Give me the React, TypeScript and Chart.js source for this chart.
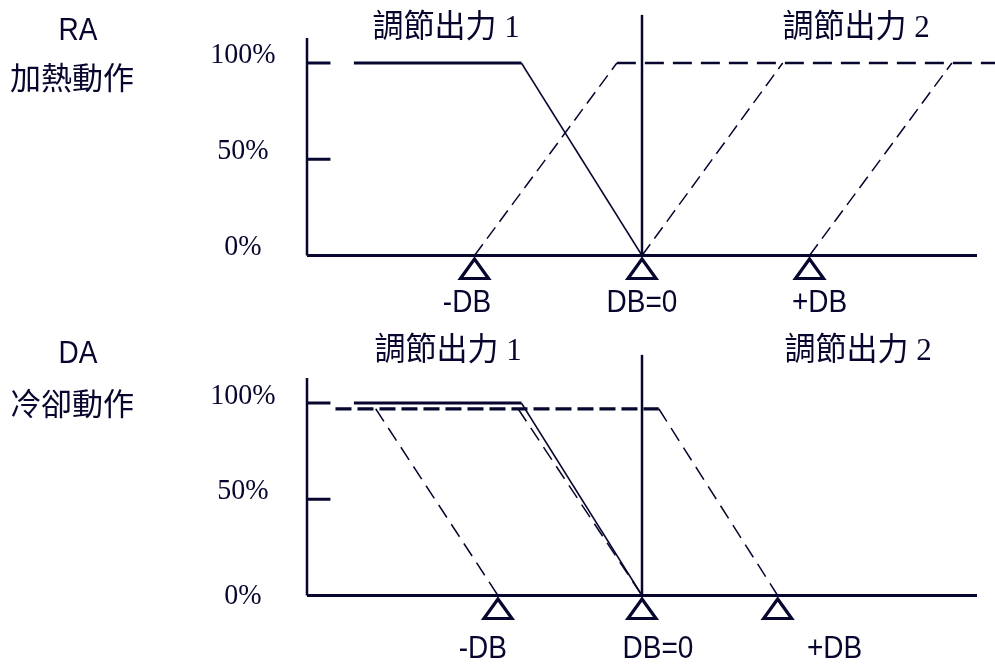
import React, { useEffect, useRef } from 'react';
import { Chart, registerables } from 'chart.js';

Chart.register(...registerables);

const INK = '#06062e';

// shared labels
const yTickValues = [0, 50, 100];
const yTickLabels = ['0%', '50%', '100%'];
const markerLabels = ['-DB', 'DB=0', '+DB'];
const titleLabels = ['調節出力 1', '調節出力 2'];

// frame (x in DB-units, y in %)
const axisX = [-2, -2, 2];
const axisY = [113, 0, 0];
const centerX = [0, 0];
const centerY = [0, 125];
const tickX = [-2, -1.86];

// RA 加熱動作
const raModeLabels = ['RA', '加熱動作'];
const raOut1X = [-1.72, -0.72, 0];
const raOut1Y = [100, 100, 0];
const raOut2AX = [-1.0, -0.15, 2.11];
const raOut2AY = [0, 100, 100];
const raOut2BX = [0, 0.84];
const raOut2BY = [0, 100];
const raOut2CX = [1.0, 1.85];
const raOut2CY = [0, 100];
const raMarkerX = [-1.0, 0, 1.0];
const raMarkerLabelX = [-1.045, 0, 1.06];
const raTitleX = [-1.17, 1.278];

// DA 冷卻動作
const daModeLabels = ['DA', '冷卻動作'];
const daOut1X = [-1.72, -0.72, 0];
const daOut1Y = [100, 100, 0];
const daOut2HX = [-1.83, 0.1];
const daOut2HY = [97, 97];
const daOut2AX = [-1.59, -0.86];
const daOut2AY = [97, 0];
const daOut2BX = [-0.74, 0];
const daOut2BY = [97, 0];
const daOut2CX = [0.1, 0.81];
const daOut2CY = [97, 0];
const daMarkerX = [-0.86, 0, 0.81];
const daMarkerLabelX = [-0.95, 0.095, 1.15];
const daTitleX = [-1.158, 1.29];

const pts = (xs: number[], ys: number[]) => xs.map((x, i) => ({ x, y: ys[i] }));

const line = (
  data: { x: number; y: number }[],
  hW: number,
  hDash: number[],
  sW: number,
  sDash: number[]
) => ({
  data,
  borderColor: INK,
  borderWidth: sW,
  borderDash: sDash,
  pointRadius: 0,
  pointHoverRadius: 0,
  clip: false as any,
  fill: false,
  tension: 0,
  borderCapStyle: 'butt' as const,
  borderJoinStyle: 'miter' as const,
  segment: {
    borderWidth: (c: any) => (c.p0.parsed.y === c.p1.parsed.y ? hW : sW),
    borderDash: (c: any) => (c.p0.parsed.y === c.p1.parsed.y ? hDash : sDash),
  },
});

type Panel = {
  padTop: number;
  padBottom: number;
  datasets: any[];
  markers: number[];
  markerLabelX: number[];
  markerLabelDy: number;
  titleX: number[];
  titleY: number;
  modeLabels: string[];
  modeX: number[];
  modeY: number[];
  yLabelDy: number[];
};

const frame = () => [
  line(pts(axisX, axisY), 3, [], 2.5, []),
  line(pts(centerX, centerY), 2.5, [], 2.5, []),
  line(pts(tickX, [100, 100]), 3, [], 3, []),
  line(pts(tickX, [50, 50]), 3, [], 3, []),
];

const panels: Panel[] = [
  {
    padTop: 63,
    padBottom: 76.5,
    datasets: [
      ...frame(),
      line(pts(raOut1X, raOut1Y), 3, [], 1.5, []),
      line(pts(raOut2AX, raOut2AY), 2.5, [19, 9], 1.5, [14, 7]),
      line(pts(raOut2BX, raOut2BY), 2.5, [19, 9], 1.5, [14, 7]),
      line(pts(raOut2CX, raOut2CY), 2.5, [19, 9], 1.5, [14, 7]),
    ],
    markers: raMarkerX,
    markerLabelX: raMarkerLabelX,
    markerLabelDy: 48.5,
    titleX: raTitleX,
    titleY: 29,
    modeLabels: raModeLabels,
    modeX: [78, 72],
    modeY: [32, 77],
    yLabelDy: [-8, -8, -8],
  },
  {
    padTop: 71,
    padBottom: 68.5,
    datasets: [
      ...frame(),
      line(pts(daOut1X, daOut1Y), 3, [], 1.5, []),
      line(pts(daOut2HX, daOut2HY), 3.3, [16, 6], 1.5, [15, 8]),
      line(pts(daOut2AX, daOut2AY), 3.3, [16, 6], 1.5, [15, 8]),
      line(pts(daOut2BX, daOut2BY), 3.3, [16, 6], 1.5, [15, 8]),
      line(pts(daOut2CX, daOut2CY), 3.3, [16, 6], 1.5, [15, 8]),
    ],
    markers: daMarkerX,
    markerLabelX: daMarkerLabelX,
    markerLabelDy: 54.5,
    titleX: daTitleX,
    titleY: 20,
    modeLabels: daModeLabels,
    modeX: [78, 72],
    modeY: [23, 71],
    yLabelDy: [1, -8, -7],
  },
];

// draw text stretched vertically (the reference glyphs are slightly tall)
const tallText = (ctx: CanvasRenderingContext2D, t: string, x: number, y: number, sy: number) => {
  ctx.save();
  ctx.translate(x, y);
  ctx.scale(1, sy);
  ctx.fillText(t, 0, 0);
  ctx.restore();
};

const decorPlugin = (p: Panel) => ({
  id: 'decor',
  afterDatasetsDraw(chart: any) {
    const ctx = chart.ctx as CanvasRenderingContext2D;
    const xs = chart.scales.x;
    const ys = chart.scales.y;
    const base = ys.getPixelForValue(0);
    ctx.save();
    // triangles
    ctx.strokeStyle = INK;
    ctx.lineWidth = 3.2;
    ctx.lineJoin = 'miter';
    p.markers.forEach((v) => {
      const px = xs.getPixelForValue(v);
      ctx.beginPath();
      ctx.moveTo(px, base + 3.5);
      ctx.lineTo(px + 14, base + 23);
      ctx.lineTo(px - 14, base + 23);
      ctx.closePath();
      ctx.stroke();
    });
    ctx.fillStyle = INK;
    ctx.textAlign = 'center';
    ctx.textBaseline = 'middle';
    // marker labels
    ctx.font = '28px "Liberation Sans"';
    markerLabels.forEach((t, i) => {
      tallText(ctx, t, xs.getPixelForValue(p.markerLabelX[i]), base + p.markerLabelDy, 1.1);
    });
    // y labels
    ctx.font = '28px "Liberation Serif"';
    yTickValues.forEach((v, i) => {
      tallText(ctx, yTickLabels[i], 243, ys.getPixelForValue(v) + p.yLabelDy[i], 1.05);
    });
    // titles
    ctx.font = '31px "Liberation Serif", "Noto Sans CJK TC"';
    titleLabels.forEach((t, i) => {
      tallText(ctx, t, xs.getPixelForValue(p.titleX[i]), p.titleY, 1.03);
    });
    // mode labels
    ctx.font = '28px "Liberation Sans"';
    tallText(ctx, p.modeLabels[0], p.modeX[0], p.modeY[0], 1.1);
    ctx.font = '31px "Noto Sans CJK TC"';
    ctx.fillText(p.modeLabels[1], p.modeX[1], p.modeY[1]);
    ctx.restore();
  },
});

function PanelChart({ panel, top }: { panel: Panel; top: number }) {
  const ref = useRef<HTMLCanvasElement | null>(null);
  useEffect(() => {
    if (!ref.current) return;
    const chart = new Chart(ref.current, {
      type: 'line',
      data: { datasets: panel.datasets },
      options: {
        animation: false,
        responsive: false,
        events: [],
        layout: { padding: { left: 307, right: 18, top: panel.padTop, bottom: panel.padBottom } },
        plugins: { legend: { display: false }, tooltip: { enabled: false } },
        scales: {
          x: { type: 'linear', min: -2, max: 2, display: false },
          y: { type: 'linear', min: 0, max: 100, display: false },
        },
      },
      plugins: [decorPlugin(panel)],
    } as any);
    return () => chart.destroy();
  }, [panel]);
  return (
    <canvas
      ref={ref}
      width={995}
      height={332}
      style={{ position: 'absolute', left: 0, top, width: 995, height: 332, display: 'block' }}
    />
  );
}

export default function App() {
  return (
    <div style={{ position: 'absolute', left: 0, top: 0, width: 995, height: 664, background: '#fff' }}>
      <PanelChart panel={panels[0]} top={0} />
      <PanelChart panel={panels[1]} top={332} />
    </div>
  );
}
